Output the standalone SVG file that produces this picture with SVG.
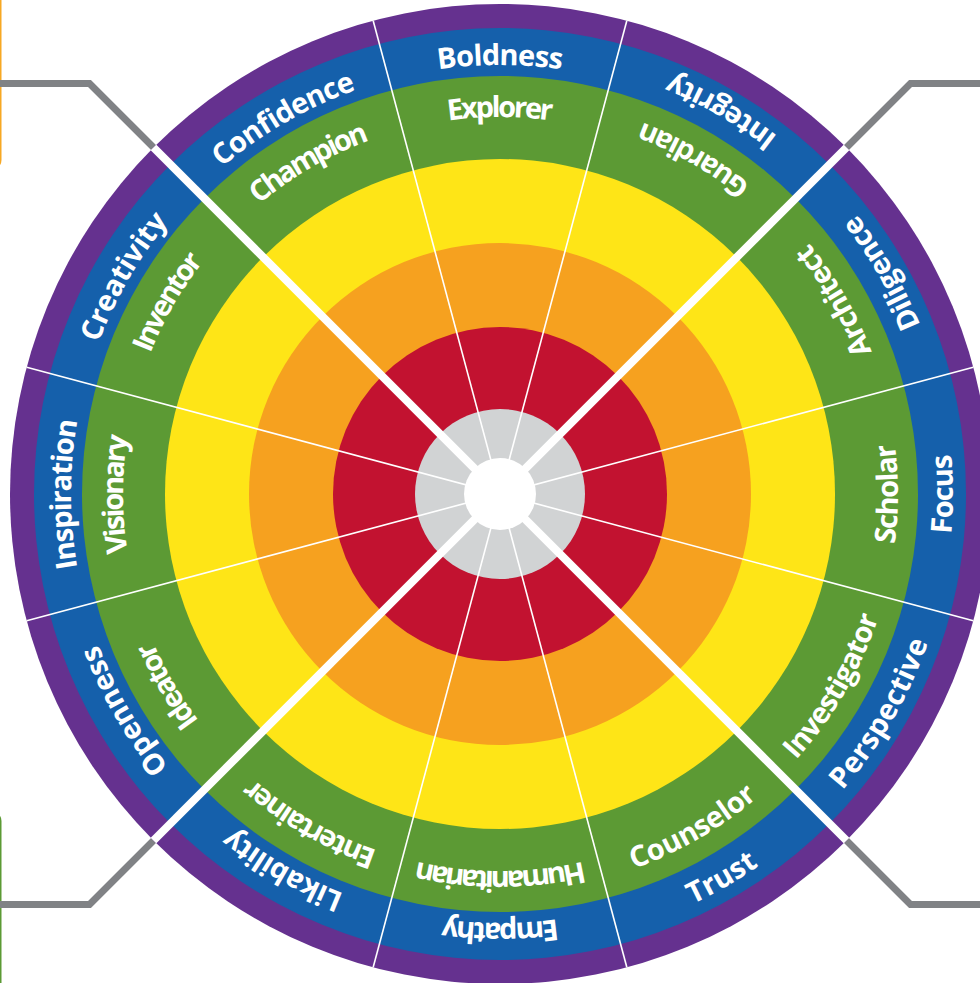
<svg xmlns="http://www.w3.org/2000/svg" xmlns:xlink="http://www.w3.org/1999/xlink" width="980" height="983" viewBox="0 0 980 983">
<style>
.lbl{font-family:"Open Sans",Lato,"DejaVu Sans",sans-serif;font-weight:700;font-size:29px;fill:#fff}
.thin{stroke:#fff;stroke-width:1.6;fill:none}
.thick{stroke:#fff;stroke-width:8;fill:none}
.conn{fill:none;stroke:#808285;stroke-width:7;stroke-linejoin:miter}
</style>
<defs>
<path id="arcOB" d="M77.52,419.5 A429,429 0 0 1 922.48,419.5"/>
<path id="arcOG" d="M128.73,428.53 A377,377 0 0 1 871.27,428.53"/>
<path id="arcIB" d="M53.88,572.66 A453,453 0 0 0 946.12,572.66"/>
<path id="arcIG" d="M108.05,563.11 A398,398 0 0 0 891.95,563.11"/>
</defs>
<rect width="980" height="983" fill="#fff"/>
<g id="edge-boxes">
<rect x="-300" y="-20" width="300" height="188" rx="8" fill="none" stroke="#F7A823" stroke-width="3"/>
<rect x="-300" y="813" width="300" height="300" rx="8" fill="none" stroke="#5C9A34" stroke-width="3"/>
</g>
<g id="connectors">
<path class="conn" d="M153.52,147.52 L89.5,83.5 L0,83.5"/>
<path class="conn" d="M846.48,147.52 L910.5,83.5 L980,83.5"/>
<path class="conn" d="M153.52,840.48 L89.5,904.5 L0,904.5"/>
<path class="conn" d="M846.48,840.48 L910.5,904.5 L980,904.5"/>
</g>
<g id="rings">
<circle cx="500" cy="494" r="490" fill="#65318F"/>
<circle cx="500" cy="494" r="466" fill="#1560AB"/>
<circle cx="500" cy="494" r="418" fill="#5C9A34"/>
<circle cx="500" cy="494" r="335" fill="#FEE517"/>
<circle cx="500" cy="494" r="251" fill="#F6A11F"/>
<circle cx="500" cy="494" r="167" fill="#C21230"/>
<circle cx="500" cy="494" r="85" fill="#D1D3D4"/>
</g>
<g id="dividers">
<line class="thin" x1="626.82" y1="20.70" x2="373.18" y2="967.30"/>
<line class="thin" x1="973.30" y1="367.18" x2="26.70" y2="620.82"/>
<line class="thin" x1="973.30" y1="620.82" x2="26.70" y2="367.18"/>
<line class="thin" x1="626.82" y1="967.30" x2="373.18" y2="20.70"/>
<line class="thick" x1="153.52" y1="147.52" x2="846.48" y2="840.48"/>
<line class="thick" x1="846.48" y1="147.52" x2="153.52" y2="840.48"/>
</g>
<g id="hub">
<circle cx="500" cy="494" r="36" fill="#fff"/>
</g>
<g id="sector-boldness">
<text class="lbl"><textPath href="#arcOB" xlink:href="#arcOB" startOffset="50%" text-anchor="middle" textLength="124" lengthAdjust="spacing">Boldness</textPath></text>
<text class="lbl"><textPath href="#arcOG" xlink:href="#arcOG" startOffset="50%" text-anchor="middle" textLength="104" lengthAdjust="spacing">Explorer</textPath></text>
</g>
<g id="sector-confidence" transform="rotate(-30 500 494)">
<text class="lbl"><textPath href="#arcOB" xlink:href="#arcOB" startOffset="50%" text-anchor="middle" textLength="156" lengthAdjust="spacing">Confidence</textPath></text>
<text class="lbl"><textPath href="#arcOG" xlink:href="#arcOG" startOffset="50%" text-anchor="middle" textLength="129" lengthAdjust="spacing">Champion</textPath></text>
</g>
<g id="sector-creativity" transform="rotate(-60 500 494)">
<text class="lbl"><textPath href="#arcOB" xlink:href="#arcOB" startOffset="50%" text-anchor="middle" textLength="141" lengthAdjust="spacing">Creativity</textPath></text>
<text class="lbl"><textPath href="#arcOG" xlink:href="#arcOG" startOffset="50%" text-anchor="middle" textLength="107" lengthAdjust="spacing">Inventor</textPath></text>
</g>
<g id="sector-inspiration" transform="rotate(-90 500 494)">
<text class="lbl"><textPath href="#arcOB" xlink:href="#arcOB" startOffset="50%" text-anchor="middle" textLength="148" lengthAdjust="spacing">Inspiration</textPath></text>
<text class="lbl"><textPath href="#arcOG" xlink:href="#arcOG" startOffset="50%" text-anchor="middle" textLength="117" lengthAdjust="spacing">Visionary</textPath></text>
</g>
<g id="sector-openness" transform="rotate(-120 500 494)">
<text class="lbl"><textPath href="#arcOB" xlink:href="#arcOB" startOffset="50%" text-anchor="middle" textLength="142" lengthAdjust="spacing">Openness</textPath></text>
<text class="lbl"><textPath href="#arcOG" xlink:href="#arcOG" startOffset="50%" text-anchor="middle" textLength="92" lengthAdjust="spacing">Ideator</textPath></text>
</g>
<g id="sector-likability" transform="rotate(-150 500 494)">
<text class="lbl"><textPath href="#arcOB" xlink:href="#arcOB" startOffset="50%" text-anchor="middle" textLength="130" lengthAdjust="spacing">Likability</textPath></text>
<text class="lbl"><textPath href="#arcOG" xlink:href="#arcOG" startOffset="50%" text-anchor="middle" textLength="145" lengthAdjust="spacing">Entertainer</textPath></text>
</g>
<g id="sector-empathy" transform="rotate(180 500 494)">
<text class="lbl"><textPath href="#arcOB" xlink:href="#arcOB" startOffset="50%" text-anchor="middle" textLength="115" lengthAdjust="spacing">Empathy</textPath></text>
<text class="lbl"><textPath href="#arcOG" xlink:href="#arcOG" startOffset="50%" text-anchor="middle" textLength="168" lengthAdjust="spacing">Humanitarian</textPath></text>
</g>
<g id="sector-trust" transform="rotate(-30 500 494)">
<text class="lbl"><textPath href="#arcIB" xlink:href="#arcIB" startOffset="50%" text-anchor="middle" textLength="77" lengthAdjust="spacing">Trust</textPath></text>
<text class="lbl"><textPath href="#arcIG" xlink:href="#arcIG" startOffset="50%" text-anchor="middle" textLength="144" lengthAdjust="spacing">Counselor</textPath></text>
</g>
<g id="sector-perspective" transform="rotate(-60 500 494)">
<text class="lbl"><textPath href="#arcIB" xlink:href="#arcIB" startOffset="50%" text-anchor="middle" textLength="172" lengthAdjust="spacing">Perspective</textPath></text>
<text class="lbl"><textPath href="#arcIG" xlink:href="#arcIG" startOffset="50%" text-anchor="middle" textLength="166" lengthAdjust="spacing">Investigator</textPath></text>
</g>
<g id="sector-focus" transform="rotate(-90 500 494)">
<text class="lbl"><textPath href="#arcIB" xlink:href="#arcIB" startOffset="50%" text-anchor="middle" textLength="80" lengthAdjust="spacing">Focus</textPath></text>
<text class="lbl"><textPath href="#arcIG" xlink:href="#arcIG" startOffset="50%" text-anchor="middle" textLength="101" lengthAdjust="spacing">Scholar</textPath></text>
</g>
<g id="sector-diligence" transform="rotate(-120 500 494)">
<text class="lbl"><textPath href="#arcIB" xlink:href="#arcIB" startOffset="50%" text-anchor="middle" textLength="129" lengthAdjust="spacing">Diligence</textPath></text>
<text class="lbl"><textPath href="#arcIG" xlink:href="#arcIG" startOffset="50%" text-anchor="middle" textLength="126" lengthAdjust="spacing">Architect</textPath></text>
</g>
<g id="sector-integrity" transform="rotate(-150 500 494)">
<text class="lbl"><textPath href="#arcIB" xlink:href="#arcIB" startOffset="50%" text-anchor="middle" textLength="124" lengthAdjust="spacing">Integrity</textPath></text>
<text class="lbl"><textPath href="#arcIG" xlink:href="#arcIG" startOffset="50%" text-anchor="middle" textLength="126" lengthAdjust="spacing">Guardian</textPath></text>
</g>
</svg>
